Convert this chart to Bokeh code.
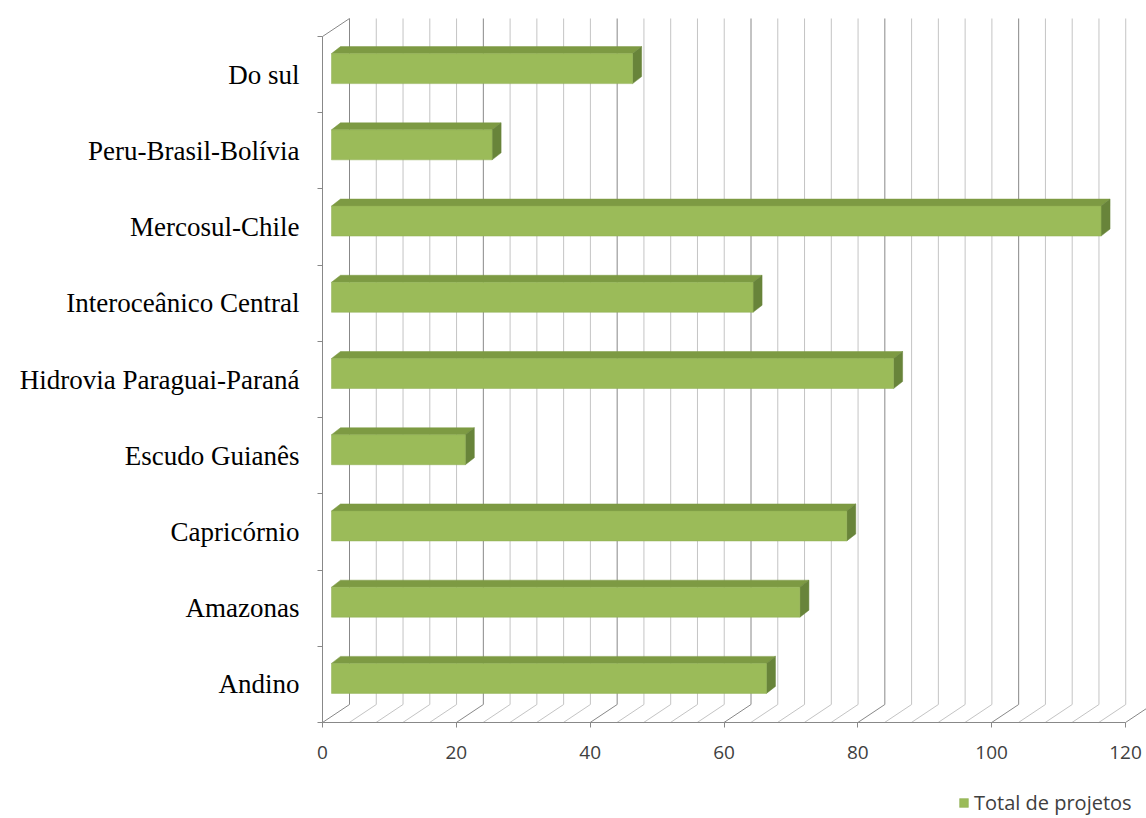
from bokeh.plotting import figure
from bokeh.models import Range1d, FixedTicker, Legend, LegendItem
from bokeh.embed import file_html
from bokeh.resources import INLINE

# ---- data (bottom to top) ----
categories = ["Andino", "Amazonas", "Capricórnio", "Escudo Guianês",
              "Hidrovia Paraguai-Paraná", "Interoceânico Central",
              "Mercosul-Chile", "Peru-Brasil-Bolívia", "Do sul"]
values = [65, 70, 77, 20, 84, 63, 115, 24, 45]
x_ticks = [0, 20, 40, 60, 80, 100, 120]
minor_step = 4
series_name = "Total de projetos"

# ---- layout ----
W, H = 1146, 818
ORIGIN_PX, TOP, FLOOR_PX = 322, 18, 722   # x pixel of value 0, wall top, front floor edge
XMAX = 120
sx = 803 / XMAX                     # px per x unit
n = len(categories)
DPX, DPY = 27, 18                   # depth of the 3D box, px
sy = (FLOOR_PX - TOP - DPY) / n     # px per category
dx, dy = DPX / sx, DPY / sy
y0, y1 = -0.5, n - 0.5
x_start = -ORIGIN_PX / sx
x_end = (W - ORIGIN_PX) / sx
y_bottom = y0 - (H - FLOOR_PX) / sy
y_top = y1 + dy + TOP / sy

p = figure(width=W, height=H, output_backend="svg", toolbar_location=None,
           x_range=Range1d(x_start, x_end), y_range=Range1d(y_bottom, y_top),
           min_border=0)
p.outline_line_color = None
p.xgrid.visible = False
p.ygrid.visible = False
p.background_fill_color = "white"
p.border_fill_color = "white"

# ---- walls / floor ----
grid_x = list(range(0, XMAX + 1, minor_step))
minor = [g for g in grid_x if g % 20 != 0]
major = [g for g in grid_x if g % 20 == 0]
for gl, col in ((minor, "#c4c4c4"), (major, "#888888")):
    p.segment(x0=[g + dx for g in gl], y0=[y0 + dy] * len(gl),
              x1=[g + dx for g in gl], y1=[y1 + dy] * len(gl),
              line_color=col, line_width=1)
    p.segment(x0=gl, y0=[y0] * len(gl), x1=[g + dx for g in gl],
              y1=[y0 + dy] * len(gl), line_color=col, line_width=1)
p.segment(x0=[0], y0=[y1], x1=[dx], y1=[y1 + dy], line_color="#888888", line_width=1)

# ---- bars ----
bx0 = 9 / sx
boff = 6 / sy
bh = 30 / sy
bdx, bdy = 9 / sx, 7 / sy
ys = list(range(n))
tops = [i + boff + bh / 2 for i in ys]
bots = [i + boff - bh / 2 for i in ys]
rights = [v + bx0 for v in values]

top_xs = [[bx0, r, r + bdx, bx0 + bdx] for r in rights]
top_ys = [[t, t, t + bdy, t + bdy] for t in tops]
side_xs = [[r, r, r + bdx, r + bdx] for r in rights]
side_ys = [[b, t, t + bdy, b + bdy] for b, t in zip(bots, tops)]
p.patches(top_xs, top_ys, fill_color="#7d9a43", line_color="#7d9a43", line_width=0.5)
p.patches(side_xs, side_ys, fill_color="#68843a", line_color="#68843a", line_width=0.5)
front = p.quad(left=[bx0] * n, right=rights, bottom=bots, top=tops,
               fill_color="#9bbb59", line_color="#8fae52", line_width=0.5)

# ---- axes ----
xa = p.xaxis[0]
xa.fixed_location = y0
xa.ticker = FixedTicker(ticks=x_ticks)
xa.bounds = (0, XMAX)
xa.axis_line_color = "#888888"
xa.major_tick_line_color = "#888888"
xa.major_tick_out = 5
xa.major_tick_in = 0
xa.minor_tick_line_color = None
xa.major_label_standoff = 18
xa.major_label_text_font = "Open Sans"
xa.major_label_text_font_size = "19px"
xa.major_label_text_color = "#404040"

ya = p.yaxis[0]
ya.fixed_location = 0
ya.ticker = FixedTicker(ticks=ys, minor_ticks=[i - 0.5 for i in range(n + 1)])
ya.major_label_overrides = {i: c for i, c in enumerate(categories)}
ya.bounds = (y0, y1)
ya.axis_line_color = "#888888"
ya.major_tick_line_color = None
ya.minor_tick_line_color = "#888888"
ya.minor_tick_out = 5
ya.minor_tick_in = 0
ya.major_label_standoff = 17
ya.major_label_text_font = "Liberation Serif"
ya.major_label_text_font_size = "27px"
ya.major_label_text_color = "#000000"

# ---- legend ----
legend = Legend(items=[LegendItem(label=series_name, renderers=[front])],
                location=(958, 2), orientation="horizontal",
                glyph_width=11, glyph_height=11, padding=0, margin=0,
                border_line_color=None, background_fill_alpha=0,
                label_text_font="Open Sans", label_text_font_size="20px",
                label_text_color="#404040", label_standoff=5)
p.add_layout(legend, "center")

open("out.html", "w").write(file_html(p, INLINE))
